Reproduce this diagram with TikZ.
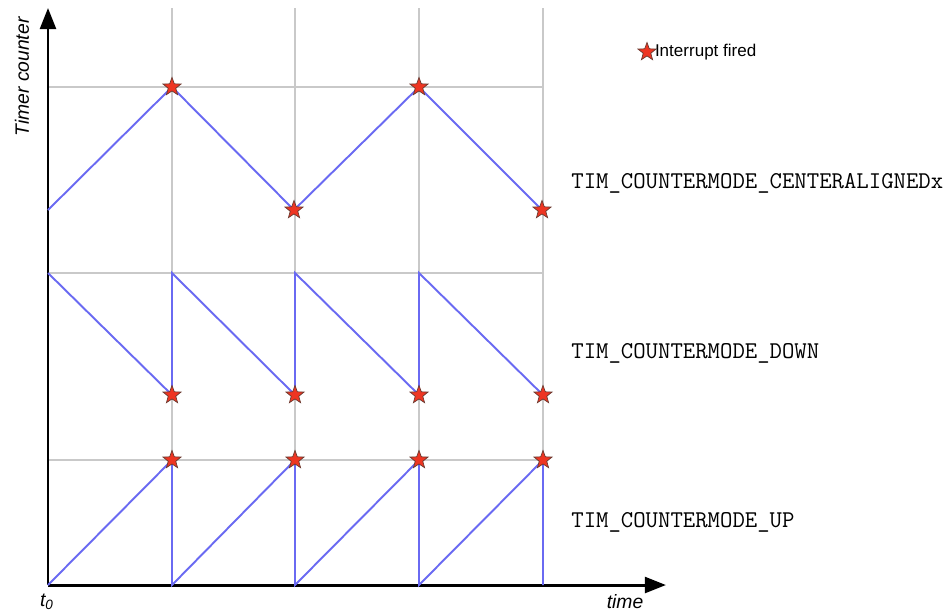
\documentclass[tikz,border=0pt]{standalone}
\usepackage{fontspec}
\setmainfont{Liberation Sans}
\usepackage{xcolor}
\usetikzlibrary{positioning, shapes.geometric, arrows.meta}
\definecolor{azulSenal}{HTML}{6A6AF2}
\definecolor{grisRejilla}{HTML}{C9C9C9}
\definecolor{rojoDisparo}{HTML}{EE3522}
\definecolor{grisBorde}{HTML}{6B3A30}

\begin{document}
\begin{tikzpicture}[
    x=0.02cm, y=-0.02cm,
    eje/.style={line width=1.7pt, -{Triangle[length=12pt, width=9pt]}},
    rejilla/.style={color=grisRejilla, line width=0.6pt},
    senal/.style={color=azulSenal, line width=1.1pt},
    disparo/.style={
        star,
        star points=5,
        star point ratio=2.4,
        minimum size=0.38cm,
        inner sep=0pt,
        fill=rojoDisparo,
        draw=grisBorde,
        line width=0.4pt,
    },
    modo/.style={font=\ttfamily\fontsize{13.7}{15}\selectfont, anchor=west, inner sep=0pt},
    rotulo/.style={font=\itshape\fontsize{11}{13}\selectfont, inner sep=0pt},
]
\useasboundingbox (0,0) rectangle (945,613);

% rejilla
\foreach \x in {172,295,419,543}
    \draw[rejilla] (\x,8) -- (\x,585);
\foreach \y in {87,273,460}
    \draw[rejilla] (48,\y) -- (543,\y);

% ejes
\coordinate (origen) at (48,585);
\coordinate (finY)   at (48,8);
\coordinate (finX)   at (666,585);
\draw[eje] (origen) -- (finY);
\draw[eje] (origen) -- (finX);

\node[rotulo, rotate=90] (ejeY)    at (22,77)   {Timer counter};
\node[rotulo]            (tiempo)  at (625,602) {time};
\node[rotulo]            (tcero)   at (47,602)  {t\textsubscript{0}};

% centrado
\coordinate (c0) at (48,210);
\coordinate (c1) at (172,87);
\coordinate (c2) at (294,210);
\coordinate (c3) at (419,87);
\coordinate (c4) at (542,210);
\draw[senal] (c0) -- (c1) -- (c2) -- (c3) -- (c4);

% descendente
\coordinate (d0) at (48,273);
\foreach \x [count=\i] in {172,295,419,543} {
    \coordinate (dA\i) at (\x,273);
    \coordinate (dB\i) at (\x,395);
}
\draw[senal] (d0) -- (dB1) -- (dA1) -- (dB2) -- (dA2) -- (dB3) -- (dA3) -- (dB4);

% ascendente
\foreach \x [count=\i] in {172,295,419,543} {
    \coordinate (uA\i) at (\x,460);
    \coordinate (uB\i) at (\x,585);
}
\draw[senal] (origen) -- (uA1) -- (uB1) -- (uA2) -- (uB2) -- (uA3) -- (uB3) -- (uA4) -- (uB4);

% disparos
\foreach \p in {c1,c2,c3,c4,dB1,dB2,dB3,dB4,uA1,uA2,uA3,uA4}
    \node[disparo] at (\p) {};

% modos
\node[modo] (modoCentro) at (571,183) {TIM\_COUNTERMODE\_CENTERALIGNEDx};
\node[modo] (modoBaja)   at (571,353) {TIM\_COUNTERMODE\_DOWN};
\node[modo] (modoSube)   at (571,522) {TIM\_COUNTERMODE\_UP};

% leyenda
\node[disparo] (leyenda) at (647,52) {};
\node[right=1pt of leyenda, inner sep=0pt, font=\fontsize{9.7}{12}\selectfont] (textoLeyenda) {Interrupt fired};

\end{tikzpicture}
\end{document}
